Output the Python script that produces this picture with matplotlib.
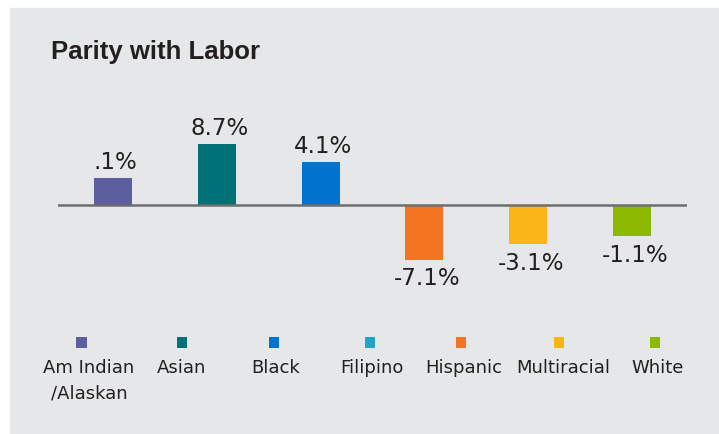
import numpy as np
import matplotlib
matplotlib.use("Agg")
import matplotlib.pyplot as plt
from matplotlib.patches import Rectangle

# data
bar_groups = ["Am Indian", "Asian", "Black", "Hispanic", "Multiracial", "White"]
parity = [0.1, 8.7, 4.1, -7.1, -3.1, -1.1]
bar_labels = [".1%", "8.7%", "4.1%", "-7.1%", "-3.1%", "-1.1%"]
bar_colors = ["#5c5ea0", "#007277", "#0073cf", "#f47521", "#fbb518", "#8dba00"]

legend_labels = ["Am Indian\n/Alaskan", "Asian", "Black", "Filipino", "Hispanic", "Multiracial", "White"]
legend_colors = ["#5c5ea0", "#007277", "#0073cf", "#22a4c9", "#f47521", "#fbb518", "#8dba00"]

# layout (pixels)
W, H = 719, 435
legend_sq_x = [81.5, 182, 274, 370, 461, 559, 655]
legend_txt_x = [89, 182, 276, 372, 464, 563, 658]
text_col = "#231f20"
base = 6.7  # bars are drawn with a constant stub added to |value|

fig = plt.figure(figsize=(W / 100, H / 100), dpi=100)
fig.patch.set_facecolor("white")

# background panel, title, legend in pixel coords
bg = fig.add_axes([0, 0, 1, 1])
bg.set_xlim(0, W)
bg.set_ylim(H, 0)
bg.axis("off")
bg.add_patch(Rectangle((10, 9), W, H, color="#e6e7e9", zorder=0))
bg.text(51, 59.5, "Parity with Labor", fontsize=18.5, fontweight="bold",
        family="Liberation Sans", color=text_col, va="baseline", ha="left")

bg.scatter(legend_sq_x, [343.5] * len(legend_sq_x), marker="s", s=62,
           c=legend_colors, linewidths=0, zorder=2)
for x, lab in zip(legend_txt_x, legend_labels):
    bg.text(x, 359, lab, fontsize=13, color=text_col, ha="center", va="top",
            linespacing=1.55)

# bars
ax = fig.add_axes([58 / W, (H - 320) / H, 629 / W, 240 / H])
ax.patch.set_alpha(0)
ax.axis("off")
x = np.arange(len(bar_groups))
heights = [np.sign(v) * (base + abs(v)) for v in parity]
ax.bar(x, heights, width=0.366, color=bar_colors, zorder=2)
ax.axhline(0, color="#6d6e70", lw=1.8, zorder=3)
ax.set_xlim(-0.53, 5.53)
ax.set_ylim(-28.86, 31.9)

for xi, h, lab in zip(x, heights, bar_labels):
    if h >= 0:
        ax.annotate(lab, (xi, h), xytext=(2, 4), textcoords="offset points",
                    ha="center", va="bottom", fontsize=16.5, color=text_col)
    else:
        ax.annotate(lab, (xi, h), xytext=(2, -5), textcoords="offset points",
                    ha="center", va="top", fontsize=16.5, color=text_col)

fig.savefig("out.png", dpi=100)
